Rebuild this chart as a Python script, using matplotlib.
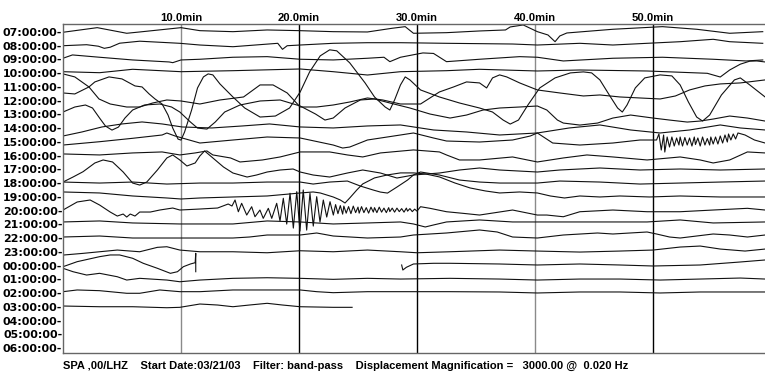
import numpy as np
import matplotlib
matplotlib.use("Agg")
import matplotlib.pyplot as plt

# helicorder rows, one per hour, top to bottom
HOURS = ["07", "08", "09", "10", "11", "12", "13", "14", "15", "16", "17", "18",
         "19", "20", "21", "22", "23", "00", "01", "02", "03", "04", "05", "06"]
MINUTE_MARKS = [10, 20, 30, 40, 50]
MARK_COLORS = ["#8a8a8a", "#000000", "#000000", "#8a8a8a", "#000000"]
ROW_SPACING = 13.7  # deflection units between two hour rows
FOOTER = ("SPA ,00/LHZ    Start Date:03/21/03    Filter: band-pass    "
          "Displacement Magnification =   3000.00 @  0.020 Hz")

# (minute, deflection) read from the record
trace_07 = [(0, -0.3), (2.9, 4.3), (5.4, -1.3), (6.5, 0), (10.0, 4.3), (11.6, 1.3), (14.4, 0.3),
            (17.3, 2), (20.1, 1.3), (22.9, 0.3), (25.8, 0), (27.9, 3.7), (29.0, 5.3), (29.7, -1.3),
            (32.5, -0.7), (35.3, 1), (37.5, 2), (37.9, 5), (39.0, 7), (40.2, 0.3), (41.1, -3),
            (41.7, -9.7), (42.1, -4), (42.7, -1), (46.6, 2.7), (50.8, 5.3), (53.7, 2.7), (56.5, -1.3),
            (59.3, 0.3)]
trace_08 = [(0, 0), (2.0, 1), (3.0, -0.5), (3.5, -2.6), (4.0, -1.5), (4.8, 2.5), (6.5, 4.5), (9.9, 2.4),
            (11.6, 0.7), (14.4, -1), (18.2, 2.4), (18.6, -3.6), (19.0, 0), (20.1, 0.7), (22.9, 2.4),
            (25.8, 3), (28.6, 3), (32.5, 2.4), (38.1, 1.7), (40.2, 0.7), (43.8, 2.4), (46.6, 0.7),
            (49.5, 2.4), (52.3, 4), (55.1, 6.4), (56.5, 4), (59.3, 2.4)]
trace_09 = [(0, 1.2), (0.8, 4.5), (3.1, 2.2), (5.9, -0.5), (9.0, -2.5), (9.3, -3.2), (10.0, -0.5),
            (11.6, 0.2), (14.4, 2.2), (17.3, 2.8), (20.1, 0.2), (22.9, -0.5), (25.8, 1.2), (27.2, 2.2),
            (27.7, -2.2), (28.6, 2.2), (30.5, 6.5), (31.4, 6), (32.5, -2.2), (35.3, 0.2), (38.7, 2.8),
            (40.2, 2.2), (42.4, -1.5), (46.6, 1.2), (50.8, 2.2), (55.1, 0.2), (57.9, -1.5), (59.3, -0.5)]
trace_10 = [(0, 1.5), (3.1, 0.5), (5.9, 3.9), (10.0, 1.5), (14.4, 2.5), (20.1, 4.2), (22.9, 1.5),
            (25.8, -1.8), (28.6, 1.5), (32.5, 2.5), (35.3, 3.9), (40.2, 2.2), (43.8, 3.2), (49.5, 2.2),
            (54.6, -0.1), (55.7, -3.8), (56.5, 3.2), (57.4, 9), (58.2, 12), (58.8, 12.2), (59.5, 11.2)]
trace_11 = [(0, 13), (1.0, 10), (2.2, 0), (3.05, -12), (4.0, -17), (5.4, -20), (6.5, -20), (7.6, -16),
            (8.8, -13), (10.0, -14), (11.6, -17), (13.3, -13), (15.3, -10), (16.7, 2), (17.8, 2),
            (19.0, -6), (20.1, -20), (21.5, -20), (22.9, -18), (24.3, -15), (25.8, -11), (27.1, -13),
            (28.6, -17), (30.3, -17), (31.9, -5), (33.1, 0), (34.2, 5), (35.3, 4), (35.9, -1), (36.4, 9),
            (37.0, 12), (37.6, 10), (38.7, 4), (40.2, -3), (42.1, -6), (44.1, -9), (45.5, -8),
            (47.2, -10), (48.9, -11), (50.6, -12), (51.9, -9), (53.1, -3), (54.4, 1), (55.7, 3),
            (57.4, 4), (59.5, 7)]
trace_12 = [(0, 7.7), (1.0, 6.7), (2.2, 13.7), (2.7, 18.7), (3.9, 23.7), (5.0, 21.7), (6.1, 14.7),
            (6.7, 13.7), (7.3, 6.7), (7.8, 1.7), (8.4, -3.3), (8.9, -14.3), (9.3, -27.3), (9.75, -38.3),
            (10.0, -39.3), (10.3, -31.3), (10.9, -9.3), (11.4, 12.7), (11.9, 23.7), (12.3, 26.7),
            (12.7, 25.7), (13.3, 16.7), (14.4, 3.7), (15.4, -7.3), (16.7, -16.3), (18.0, -15.3),
            (19.2, -7.3), (20.1, 8.7), (20.9, 28.7), (21.8, 44.7), (22.6, 50.7), (23.2, 49.7),
            (24.3, 37.7), (25.6, 17.7), (26.4, 3.7), (27.3, -6.3), (27.7, -9.3), (28.1, 0.7),
            (28.6, 15.7), (29.0, 23.7), (29.4, 20.7), (30.3, 10.7), (31.9, 3.7), (33.6, -2.3),
            (35.3, -7.3), (36.4, -11.3), (37.3, -19.3), (37.9, -23.3), (38.6, -19.3), (39.4, -4.3),
            (40.4, 12.7), (41.7, 22.7), (43.0, 27.7), (44.1, 28.7), (44.8, 27.7), (45.5, 20.7),
            (46.4, 3.7), (47.0, -7.3), (47.4, -11.3), (47.8, -4.3), (48.5, 12.7), (49.3, 22.7),
            (50.6, 25.7), (51.6, 24.7), (52.3, 15.7), (53.0, -1.3), (53.7, -16.3), (54.2, -20.3),
            (54.8, -14.3), (55.8, 5.7), (56.9, 20.7), (57.4, 22.7), (58.2, 15.7), (59.5, 3.7)]
trace_13 = [(0, 2.4), (1.0, 7.4), (1.9, 9.4), (2.5, 6.4), (3.1, -3.6), (3.6, -11.6), (4.15, -15.6),
            (4.7, -12.6), (5.25, -3.6), (5.9, 4.4), (6.9, 9.4), (8.2, 10.4), (9.2, 7.4), (9.9, 2.4),
            (10.8, -7.6), (11.4, -13.6), (12.2, -14.6), (12.9, -7.6), (13.7, 2.4), (15.0, 9.4),
            (16.7, 13.4), (18.4, 14.4), (20.1, 8.4), (21.4, 0.4), (22.2, -5.6), (22.9, -3.6),
            (23.9, 6.4), (25.2, 14.4), (26.4, 15.4), (27.7, 11.4), (29.4, 6.4), (31.1, 0.4),
            (32.8, -3.6), (34.2, -0.6), (35.6, 4.4), (37.0, 6.4), (38.7, 7.4), (40.2, 8.4), (41.0, 4.4),
            (41.9, -5.6), (42.4, -8.6), (43.8, -10.6), (45.3, -8.6), (46.6, -3.6), (48.1, -0.6),
            (50.0, -3.6), (51.4, -5.6), (52.9, -7.6), (54.0, -6.6), (55.1, -4.6), (56.5, -1.6),
            (58.0, -3.6), (59.5, -6.6)]
trace_14 = [(0, -7.8), (1.6, -3.8), (3.3, 1.2), (5.0, 4.2), (6.7, 6.2), (8.4, 4.2), (10.1, 1.2),
            (12.6, 0.2), (15.2, 2.2), (17.5, 4.2), (20.1, 1.2), (22.9, 0.2), (25.8, 2.2), (28.6, 3.2),
            (31.4, -1.8), (34.2, -3.8), (37.0, -6.8), (40.2, -4.8), (42.9, 0.2), (45.5, 3.2),
            (48.1, -1.8), (50.6, -4.8), (53.1, -1.8), (55.7, 3.2), (57.4, 0.2), (59.5, -1.8)]
trace_15 = [(0, -3.1), (3.1, 0.2), (5.9, 3.6), (8.4, 6.9), (8.8, 8.9), (9.5, 5.9), (10.1, 3.9),
            (11.6, -1.1), (14.4, 1.9), (17.3, 4.9), (20.1, 3.9), (22.9, -3.1), (23.7, -6.1),
            (24.3, -5.1), (25.8, 1.9), (28.6, 6.9), (29.7, 8.9), (31.4, 3.9), (32.5, 0.9), (35.3, -0.1),
            (38.1, 1.9), (39.6, 5.9), (40.2, 8.9), (41.5, -1.1), (43.8, -3.1), (46.6, -1.1), (48.9, 1.9),
            (50.2, 1.9), (57.2, 8.9), (57.8, 6.9), (58.6, 1.9), (59.5, -1.1)]
burst_15 = [(50.3, 1.9), (50.5, 7.9), (50.7, -8.1), (50.9, 6.9), (51.0, -10.1), (51.2, 4.9),
            (51.4, -5.1), (51.6, 4.9), (51.8, -4.1), (52.0, 3.9), (52.2, -3.1), (52.3, 4.9),
            (52.5, -4.1), (52.7, 4.4), (52.9, -3.1), (53.1, 3.9), (53.3, -4.1), (53.5, 4.9),
            (53.6, -2.6), (53.8, 3.9), (54.0, -4.1), (54.2, 4.9), (54.4, -3.1), (54.6, 3.4),
            (54.8, -3.1), (54.9, 4.9), (55.1, -2.1), (55.3, 4.9), (55.5, -2.1), (55.7, 5.9),
            (55.9, -1.1), (56.1, 6.9), (56.3, -0.1), (56.4, 7.9), (56.6, 1.9), (56.8, 7.9), (57.0, 2.9)]
trace_16 = [(0, 1.7), (3.1, 0.7), (5.9, 2.7), (8.4, 3.7), (9.9, 0.7), (11.2, 2.7), (12.2, 4.7),
            (12.7, 0.7), (14.2, -2.3), (15.0, -6.3), (16.9, -4.3), (18.4, -1.3), (20.1, 3.7),
            (22.6, 3.7), (24.1, 0.7), (25.4, -1.3), (26.9, 2.7), (29.7, 5.7), (31.9, 3.7), (32.5, 0.7),
            (33.6, -4.3), (35.3, -4.3), (38.1, -1.3), (40.2, -6.3), (42.4, -2.3), (44.4, 0.7),
            (46.6, -1.3), (49.5, -4.3), (52.3, -1.3), (54.0, -4.3), (55.1, -7.3), (56.5, -4.3),
            (58.0, 3.7), (59.5, 2.7)]
trace_17 = [(0, -12.6), (0.85, -7.6), (1.7, -2.3), (2.7, 6.4), (3.4, 9.4), (4.2, 7.4), (5.1, -2.6),
            (5.9, -13.6), (6.5, -15.6), (7.1, -12.6), (8.0, -0.6), (8.8, 11.4), (9.3, 14.4), (9.9, 9.4),
            (10.5, 3.4), (11.2, 6.4), (11.6, 13.4), (12.0, 18.4), (12.7, 11.4), (13.6, 2.4),
            (14.4, -3.6), (15.6, -7.6), (16.4, -5.6), (17.3, -2.6), (18.4, -0.6), (19.5, 0.4),
            (20.1, -2.6), (21.2, -5.6), (22.6, -7.6), (24.1, -3.6), (25.4, -0.6), (26.9, -3.6),
            (28.3, -8.6), (29.7, -5.6), (31.9, -3.6), (33.6, -0.6), (35.3, 1.4), (37.0, -0.6),
            (40.2, -2.6), (42.1, -0.6), (45.5, 1.4), (48.9, -0.6), (52.3, 0.4), (55.7, -0.6), (59.5, 0.4)]
trace_18 = [(0, 1.1), (3.1, 0.1), (5.9, 1.1), (8.8, -0.9), (11.6, 0.1), (14.4, 0.1), (17.3, 1.1),
            (20.1, 1.1), (21.2, -0.9), (22.6, 1.1), (24.1, 2.1), (25.2, -2.9), (26.3, -6.9),
            (26.9, -8.9), (27.5, -9.9), (28.3, -3.9), (29.2, 3.1), (29.7, 8.1), (30.3, 11.1),
            (31.9, 8.1), (33.6, 3.1), (35.3, 1.1), (37.0, 0.1), (40.2, 0.1), (42.1, 2.1), (45.5, 1.1),
            (48.9, -0.9), (52.3, 0.1), (55.7, 1.1), (59.5, 2.1)]
trace_19 = [(0, 4.9), (3.1, 3.9), (5.9, 0.9), (8.8, -1.1), (10.0, -2.1), (11.6, -1.1), (14.4, -0.1),
            (17.3, 0.9), (19.2, 2.9), (20.1, 3.9), (21.2, 4.9), (21.8, 3.9), (22.9, -0.1), (23.5, -3.1),
            (23.9, -6.1), (24.3, -1.1), (24.9, 6.9), (25.4, 12.9), (26.4, 18.9), (27.5, 21.9),
            (28.6, 23.9), (29.7, 23.9), (30.7, 22.9), (31.9, 19.9), (33.2, 13.9), (34.5, 8.9),
            (35.8, 5.9), (37.0, 3.9), (38.7, 4.9), (40.2, 3.9), (41.3, 0.9), (42.5, -1.1), (43.8, 0.9),
            (45.5, -0.1), (47.2, 0.9), (49.7, -0.1), (52.3, 0.9), (55.7, -0.1), (59.5, -0.1)]
trace_20 = [(0, 0.6), (1.2, 8.6), (2.3, 10.6), (3.1, 5.6), (4.0, -1.4), (4.6, -5.4), (5.1, -3.4),
            (5.4, -6.4), (5.7, -3.4), (6.1, -5.4), (6.5, -1.4), (7.4, -1.4), (8.2, 0.6), (9.3, 2.6),
            (9.9, 0.6), (11.6, 1.6), (13.1, 2.6), (14.0, 6.6), (30.3, 3.9), (31.1, 2.3), (32.5, -1.1),
            (33.9, -2.7), (35.3, -4.4), (38.1, 0.6), (40.2, -4.4), (41.0, -4.4), (42.4, -6.1),
            (43.8, -1.1), (46.6, 0.6), (49.5, -1.1), (52.3, -1.1), (55.1, 0.6), (58.0, 2.3), (59.5, 0.6)]
burst_20 = [(14.32, 4.6), (14.58, 10.6), (14.86, -1.1), (15.14, 7.3), (15.57, -4.4), (15.99, 3.9),
            (16.27, -6.1), (16.69, 0.6), (16.97, -7.7), (17.40, 2.3), (17.69, -7.7), (18.11, 7.3),
            (18.39, -10.4), (18.67, 12.3), (18.96, -13.4), (19.24, 17.3), (19.52, -17.4), (19.81, 18.9),
            (20.08, -20.4), (20.36, 20.6), (20.65, -19.4), (20.93, 17.3), (21.21, -15.4), (21.50, 13.9),
            (21.78, -11.4), (22.06, 10.6), (22.35, -6.4), (22.63, 8.9), (22.91, -4.4),
            (23.1, 6.0), (23.3, -3.0), (23.5, 5.0), (23.7, -3.5), (23.8, 4.5), (24.0, -2.5), (24.2, 4.0),
            (24.4, -3.0), (24.6, 4.5), (24.8, -2.0), (25.0, 3.5), (25.1, -2.5), (25.3, 4.0), (25.5, -2.0),
            (25.7, 3.0), (25.9, -2.5), (26.1, 3.5), (26.3, -1.5), (26.4, 3.0), (26.6, -2.0), (26.8, 3.5),
            (27.0, -1.5), (27.2, 2.5), (27.4, -2.0), (27.6, 3.0), (27.7, -1.0), (27.9, 2.5), (28.1, -1.5),
            (28.3, 2.5), (28.5, -1.0), (28.7, 2.0), (28.9, -1.5), (29.1, 2.5), (29.2, -0.5), (29.4, 2.0),
            (29.6, -1.0), (29.8, 1.5), (30.0, -0.5)]
trace_21 = [(0, 2.4), (3.1, 3.4), (5.9, 1.4), (9.9, 0.4), (14.4, 0.4), (17.3, 3.4), (20.1, 2.4),
            (22.9, 0.4), (25.8, 1.4), (28.6, 2.4), (29.7, 0.4), (30.7, -2.6), (31.4, -0.6), (32.5, 2.4),
            (35.3, 4.4), (38.1, 2.4), (41.0, 2.4), (43.8, 2.4), (46.6, 2.4), (49.5, 2.4), (52.3, 4.4),
            (55.1, 1.4), (59.5, 2.4)]
trace_22 = [(0, 1.1), (3.1, 2.1), (5.9, 0.1), (10.0, 0.1), (14.4, 0.1), (15.8, 1.1), (17.3, 3.1),
            (20.1, 3.1), (21.5, 5.1), (22.9, 2.1), (25.8, 0.1), (28.6, 1.1), (29.7, 3.1), (32.5, 5.1),
            (35.3, 8.1), (36.8, 6.1), (38.1, 1.1), (40.2, 0.1), (42.4, 3.1), (45.3, 5.1), (46.6, 4.1),
            (49.5, 6.1), (50.3, 4.1), (51.4, 1.1), (52.3, 0.1), (53.7, 2.1), (55.1, 4.1), (56.5, 3.1),
            (58.0, 1.1), (59.5, 3.1)]
trace_23 = [(0, -3.2), (1.7, -1.5), (3.1, 0.1), (4.6, 1.8), (6.5, 0.1), (8.0, 4.5), (8.8, 5.1),
            (9.9, 1.8), (11.6, 0.1), (14.4, 0.1), (17.3, -0.9), (20.1, 1.1), (22.9, 0.1), (25.8, 1.8),
            (28.6, 0.1), (30.0, -0.9), (32.8, 0.1), (37.0, 1.8), (40.2, 0.8), (43.8, -0.2), (47.2, 0.8),
            (50.0, 1.8), (52.3, 4.8), (54.0, 5.8), (55.7, 2.8), (57.8, 0.8), (59.5, 2.8)]
trace_00_a = [(0, -1.1), (1.2, 3.9), (3.1, 8.9), (4.0, 10.6), (4.8, 10.6), (5.9, 7.3), (6.8, 2.3),
              (8.0, -2.7), (9.1, -7.7), (9.7, -6.1), (10.2, -1.1), (10.8, 1.6), (11.2, 2.9),
              (11.25, 12.3), (11.25, -6.1)]
trace_00_b = [(28.7, 0.6), (28.8, -4.4), (29.1, -1.7), (29.7, 1.6), (31.4, 2.3), (32.8, 2.3),
              (37.0, 1.6), (40.2, 0.6), (43.8, 1.6), (47.2, 0.6), (50.0, -0.4), (54.0, 0.6),
              (57.4, 3.6), (59.5, 5.6)]
trace_01 = [(0, 11), (0.85, 7.6), (2.0, 4.3), (3.1, 6), (4.6, 2.6), (5.4, -0.7), (6.5, 1), (8.8, -0.7),
            (9.9, -2.4), (11.6, -0.7), (14.4, 1), (17.3, 1.6), (20.1, 1), (22.9, 0), (25.8, 1),
            (28.6, 0.3), (32.8, 1), (37.0, 0.3), (40.2, -0.7), (43.8, 0.3), (47.2, 0.3), (50.6, -0.7),
            (54.0, 0.3), (57.4, 1.3), (59.5, 0.3)]
trace_02 = [(0, 1.4), (1.2, 3.1), (3.1, 2.4), (5.4, -0.2), (6.5, -0.2), (8.2, 3.1), (9.9, 1.4),
            (11.6, 1.4), (14.4, 3.1), (17.3, 3.1), (20.1, 3.1), (21.5, 1.4), (22.9, 0.4), (25.8, 1.4),
            (28.6, 1.4), (32.8, 1.4), (37.0, 1.1), (40.2, 0.1), (43.8, 1.1), (47.2, 1.1), (50.6, 0.1),
            (54.0, 1.1), (57.4, 1.1), (59.5, 1.1)]
trace_03 = [(0, 0.8), (3.1, 0.1), (5.9, 0.1), (8.8, -0.9), (9.9, -0.5), (11.6, 2.8), (13.1, 1.8),
            (14.4, 0.1), (15.8, 1.8), (17.3, 3.5), (18.6, 1.8), (20.1, 0.1), (22.9, -0.5), (24.5, -0.5)]

segments = [
    ("07", trace_07), ("08", trace_08), ("09", trace_09), ("10", trace_10),
    ("11", trace_11), ("12", trace_12), ("13", trace_13), ("14", trace_14),
    ("15", sorted(trace_15 + burst_15)), ("16", trace_16), ("17", trace_17),
    ("18", trace_18), ("19", trace_19), ("20", sorted(trace_20 + burst_20)),
    ("21", trace_21), ("22", trace_22), ("23", trace_23),
    ("00", trace_00_a), ("00", trace_00_b),
    ("01", trace_01), ("02", trace_02), ("03", trace_03),
]


def main():
    fig = plt.figure(figsize=(7.65, 3.74), dpi=100)
    ax = fig.add_axes([63 / 765, 21 / 374, 708 / 765, 329 / 374])

    for m, c in zip(MINUTE_MARKS, MARK_COLORS):
        ax.axvline(m, color=c, lw=1.0, zorder=1)

    for hour, pts in segments:
        row = HOURS.index(hour)
        t = np.array([p[0] for p in pts])
        d = np.array([p[1] for p in pts])
        ax.plot(t, -row + d / ROW_SPACING, color="#111111", lw=0.8, zorder=2)

    ax.set_xlim(0, 60)
    ax.set_ylim(-len(HOURS) + 1 - 0.36, 0.58)

    ax.set_yticks([-i for i in range(len(HOURS))])
    ax.set_yticklabels([f"{h}:00:00-" for h in HOURS],
                       fontfamily="DejaVu Sans", fontweight="bold", fontsize=7.9)
    ax.tick_params(axis="y", length=0, pad=0.5)

    ax.xaxis.tick_top()
    ax.set_xticks(MINUTE_MARKS)
    ax.set_xticklabels([f"{m:.1f}min" for m in MINUTE_MARKS],
                       fontfamily="Liberation Sans", fontweight="bold", fontsize=8.1)
    ax.tick_params(axis="x", length=0, pad=0.6)

    for side in ["left", "top", "bottom"]:
        ax.spines[side].set_color("#666666")
        ax.spines[side].set_linewidth(1.0)
    ax.spines["right"].set_visible(False)

    fig.text(63 / 765, 1 - 365.5 / 374, FOOTER, ha="left", va="center",
             fontfamily="Liberation Sans", fontweight="bold", fontsize=8.0)

    fig.savefig("out.png", dpi=100)
    plt.close(fig)


if __name__ == "__main__":
    main()
